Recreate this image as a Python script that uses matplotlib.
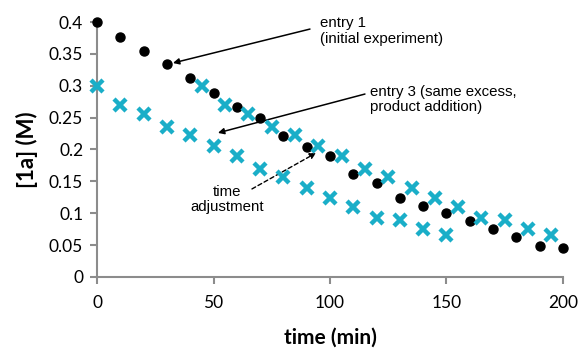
import matplotlib
matplotlib.use("Agg")
import matplotlib.pyplot as plt

# entry 1 (initial experiment)
t_entry1 = [0, 10, 20, 30, 40, 50, 60, 70, 80, 90, 100,
            110, 120, 130, 140, 150, 160, 170, 180, 190, 200]
c_entry1 = [0.400, 0.376, 0.355, 0.334, 0.312, 0.288, 0.267, 0.249, 0.221, 0.204, 0.189,
            0.161, 0.147, 0.123, 0.112, 0.101, 0.088, 0.075, 0.062, 0.049, 0.046]

# entry 3 (same excess, product addition)
t_entry3 = [0, 10, 20, 30, 40, 50, 60, 70, 80, 90, 100, 110, 120, 130, 140, 150]
c_entry3 = [0.300, 0.270, 0.256, 0.236, 0.222, 0.206, 0.189, 0.169, 0.157, 0.139,
            0.123, 0.109, 0.092, 0.089, 0.075, 0.066]

# entry 3 after time adjustment
t_entry3_adj = [45, 55, 65, 75, 85, 95, 105, 115, 125, 135, 145, 155, 165, 175, 185, 195]

x_ticks = [0, 50, 100, 150, 200]
y_ticks = [0, 0.05, 0.1, 0.15, 0.2, 0.25, 0.3, 0.35, 0.4]
y_tick_labels = ["0", "0.05", "0.1", "0.15", "0.2", "0.25", "0.3", "0.35", "0.4"]

cyan = "#1AAEC8"
axis_gray = "#8C8C8C"

fig = plt.figure(figsize=(5.81, 3.5), dpi=100)
ax = fig.add_axes([0.167, 0.209, 0.802, 0.728])

ax.plot(t_entry1, c_entry1, linestyle="none", marker="o", markersize=6.5,
        color="black", clip_on=False, zorder=3)
ax.plot(t_entry3, c_entry3, linestyle="none", marker="x", markersize=8,
        markeredgewidth=3.2, color=cyan, clip_on=False, zorder=4)
ax.plot(t_entry3_adj, c_entry3, linestyle="none", marker="x", markersize=8,
        markeredgewidth=3.2, color=cyan, clip_on=False, zorder=4)

ax.set_xlim(0, 200)
ax.set_ylim(0, 0.4)
ax.set_xticks(x_ticks)
ax.set_yticks(y_ticks)
ax.set_yticklabels(y_tick_labels)

for side in ("top", "right"):
    ax.spines[side].set_visible(False)
for side in ("left", "bottom"):
    ax.spines[side].set_color(axis_gray)
    ax.spines[side].set_linewidth(1.5)

ax.tick_params(axis="both", colors=axis_gray, width=1.5, length=5,
               labelcolor="black", labelsize=12.5, direction="out")
for lab in ax.get_xticklabels() + ax.get_yticklabels():
    lab.set_fontfamily("Lato")
ax.tick_params(axis="x", pad=8)
ax.tick_params(axis="y", pad=5)

ax.set_xlabel("time (min)", fontsize=15, fontweight="bold", family="Lato", labelpad=12)
ax.set_ylabel("[1a] (M)", fontsize=16, fontweight="bold", family="Lato", labelpad=8)

note_font = dict(family="Liberation Sans", fontsize=10.8)

ax.annotate("", xy=(32.6, 0.3357), xytext=(91.4, 0.389),
            arrowprops=dict(arrowstyle="-|>", color="black", lw=1.1,
                            mutation_scale=9, shrinkA=0, shrinkB=0))
ax.text(95.5, 0.386, "entry 1\n(initial experiment)", ha="left", va="center",
        linespacing=1.1, **note_font)

ax.annotate("", xy=(51.9, 0.226), xytext=(115, 0.287),
            arrowprops=dict(arrowstyle="-|>", color="black", lw=1.1,
                            mutation_scale=9, shrinkA=0, shrinkB=0))
ax.text(117.2, 0.278, "entry 3 (same excess,\nproduct addition)", ha="left", va="center",
        linespacing=1.1, **note_font)

ax.annotate("", xy=(94, 0.1945), xytext=(66.5, 0.138),
            arrowprops=dict(arrowstyle="-|>", color="black", lw=1.0, linestyle=(0, (3, 2)),
                            mutation_scale=9, shrinkA=0, shrinkB=0))
ax.text(55.8, 0.121, "time\nadjustment", ha="center", va="center",
        linespacing=1.1, **note_font)

fig.savefig("out.png", dpi=100)
